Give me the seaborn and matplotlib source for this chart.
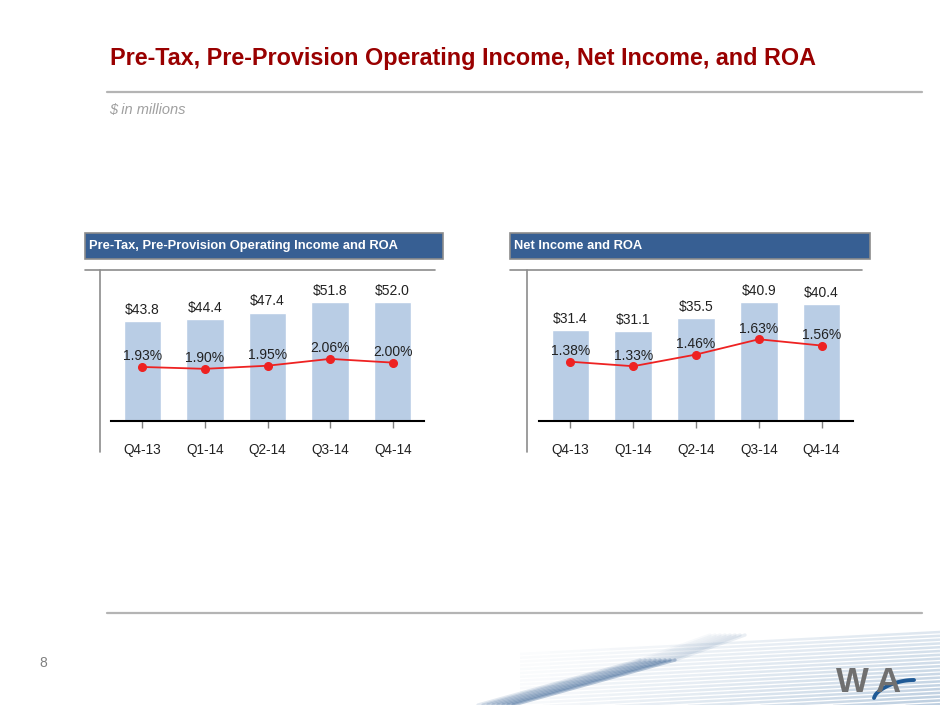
import numpy as np
import pandas as pd
import seaborn as sns
import matplotlib
matplotlib.use("Agg")
import matplotlib.pyplot as plt
from matplotlib.lines import Line2D
from matplotlib.patches import Rectangle

quarters = ["Q4-13", "Q1-14", "Q2-14", "Q3-14", "Q4-14"]
ppoi = [43.8, 44.4, 47.4, 51.8, 52.0]
ppoi_roa = [1.93, 1.90, 1.95, 2.06, 2.00]
net_income = [31.4, 31.1, 35.5, 40.9, 40.4]
net_roa = [1.38, 1.33, 1.46, 1.63, 1.56]

W, H = 940, 705
BAR = "#B9CDE5"
RED = "#EE2222"
NAVY = "#375F93"

sns.set_theme(style="white")
plt.rcParams["font.family"] = ["Liberation Sans", "DejaVu Sans"]


def fx(px):
    return px / W


def fy(py):
    return 1 - py / H


def draw_panel(fig, x0, x1, hdr_x0, hdr_x1, frame_x, title, values, roa, ylim, y2lim):
    # header box
    fig.add_artist(Rectangle((fx(hdr_x0), fy(259)), fx(hdr_x1 - hdr_x0), (259 - 233) / H,
                             facecolor=NAVY, edgecolor="#8C8C8C", linewidth=1.2,
                             transform=fig.transFigure))
    fig.text(fx(hdr_x0 + 4), fy(246), title, color="white", fontsize=9.3,
             fontweight="bold", va="center", ha="left")
    # frame lines
    fig.add_artist(Line2D([fx(hdr_x0), fx(hdr_x1 - 8)], [fy(270), fy(270)],
                          color="#8C8C8C", linewidth=1.2, transform=fig.transFigure))
    fig.add_artist(Line2D([fx(frame_x), fx(frame_x)], [fy(270), fy(452)],
                          color="#8C8C8C", linewidth=1.2, transform=fig.transFigure))

    ax = fig.add_axes([fx(x0), fy(421), fx(x1 - x0), (421 - 280) / H])
    df = pd.DataFrame({"quarter": quarters, "value": values})
    sns.barplot(data=df, x="quarter", y="value", color=BAR, width=0.6,
                saturation=1, ax=ax)
    ax.set_ylim(*ylim)
    ax.set_xlim(-0.5, 4.5)
    ax.set_xlabel("")
    ax.set_ylabel("")
    ax.set_yticks([])
    for s in ["top", "left", "right"]:
        ax.spines[s].set_visible(False)
    ax.spines["bottom"].set_color("black")
    ax.spines["bottom"].set_linewidth(1.5)
    ax.tick_params(axis="x", bottom=True, direction="out", length=5, width=1,
                   color="#808080", labelsize=9.8, pad=11, labelcolor="#222222")
    for i, v in enumerate(values):
        ax.annotate(f"${v:.1f}", (i, v), xytext=(0, 3), textcoords="offset points",
                    ha="center", va="bottom", fontsize=10, color="#222222")

    ax2 = ax.twinx()
    ax2.plot(np.arange(len(roa)), roa, color=RED, linewidth=1.3, marker="o",
             markersize=5.5, markeredgecolor=RED)
    ax2.set_ylim(*y2lim)
    ax2.set_yticks([])
    for s in ax2.spines.values():
        s.set_visible(False)
    for i, r in enumerate(roa):
        ax2.annotate(f"{r:.2f}%", (i, r), xytext=(0, 2.5), textcoords="offset points",
                     ha="center", va="bottom", fontsize=10, color="#222222")


fig = plt.figure(figsize=(9.4, 7.05), dpi=100)
fig.patch.set_facecolor("white")

# titles
fig.text(fx(110), fy(58), "Pre-Tax, Pre-Provision Operating Income, Net Income, and ROA",
         color="#990000", fontsize=16.8, fontweight="bold", va="center", ha="left",
         family=["Liberation Sans Narrow", "Liberation Sans", "DejaVu Sans"])
fig.add_artist(Line2D([fx(107), fx(922)], [fy(92), fy(92)], color="#B4B4B4",
                      linewidth=1.6, transform=fig.transFigure))
fig.text(fx(109), fy(110), "$ in millions", color="#A0A0A0", fontsize=10.5,
         style="italic", va="center", ha="left")
fig.add_artist(Line2D([fx(107), fx(922)], [fy(613), fy(613)], color="#B4B4B4",
                      linewidth=1.6, transform=fig.transFigure))
fig.text(fx(43), fy(663), "8", color="#808080", fontsize=10, va="center", ha="center")

draw_panel(fig, 111, 424, 85, 443, 100,
           "Pre-Tax, Pre-Provision Operating Income and ROA",
           ppoi, ppoi_roa, (0, 61.6), (1.06, 3.33))
draw_panel(fig, 539, 853, 510, 870, 527, "Net Income and ROA",
           net_income, net_roa, (0, 48.6), (0.72, 2.29))

# decorative swoosh in the footer
deco = fig.add_axes([0, 0, 1, 1], zorder=-1)
deco.set_xlim(0, W)
deco.set_ylim(H, 0)
deco.axis("off")
for k in range(20):
    y_right = 632 + k * 3.8
    y_left = y_right + 22
    segs = np.linspace(520, 940, 15)
    for j in range(len(segs) - 1):
        t = j / (len(segs) - 2)
        ya = y_left + (y_right - y_left) * (segs[j] - 520) / 420
        yb = y_left + (y_right - y_left) * (segs[j + 1] - 520) / 420
        deco.plot([segs[j], segs[j + 1]], [ya, yb], color="#5A86B2",
                  alpha=(0.05 + 0.35 * t) * (0.5 + 0.5 * k / 19), linewidth=1.8,
                  solid_capstyle="butt")
for k in range(8):
    t = k / 7
    deco.plot([478 + k * 5, 640 + k * 5], [705, 660], color="#1F4E86",
              alpha=0.12 + 0.18 * t, linewidth=2.4)
    deco.plot([640 + k * 5, 710 + k * 5], [660, 635], color="#1F4E86",
              alpha=0.03 + 0.06 * t, linewidth=2.4)
deco.text(852, 683, "W", color="#707070", fontsize=25, fontweight="bold",
          ha="center", va="center",
          family=["Liberation Sans Narrow", "Liberation Sans", "DejaVu Sans"])
deco.text(888, 683, "A", color="#707070", fontsize=25, fontweight="bold",
          ha="center", va="center",
          family=["Liberation Sans Narrow", "Liberation Sans", "DejaVu Sans"])
arc_t = np.linspace(0, 1, 30)
deco.plot(874 + 40 * arc_t, 698 - 18 * np.sin(arc_t * np.pi / 2) ** 0.6,
          color="#1F5A96", linewidth=2.8)

fig.savefig("out.png", dpi=100)
